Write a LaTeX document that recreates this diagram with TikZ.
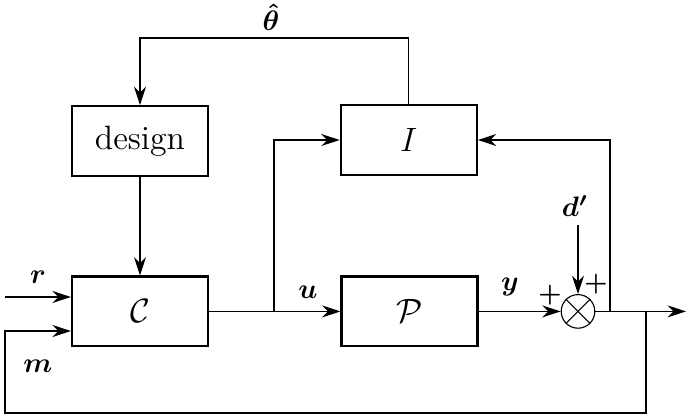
\documentclass[tikz,border=0pt]{standalone}
\usetikzlibrary{arrows.meta, positioning}
\usepackage{amsmath}

\begin{document}
\begin{tikzpicture}[
    x=0.5cm, y=0.5cm,
    blk/.style={draw, thick, minimum width=1.7cm, minimum height=0.87cm,
                font=\large},
    sig/.style={font=\normalsize, inner sep=1pt},
    pls/.style={font=\small, inner sep=1pt},
    junc/.style={draw, circle, minimum size=0.42cm, inner sep=0pt},
    >={Stealth[length=2.3mm, width=1.5mm]}
  ]
  \useasboundingbox (0,0) rectangle (17.2,10.425);

  % Blocks
  \node[blk] (design) at (3.5, 6.9) {design};
  \node[blk] (ident) at (10.22, 6.925) {$I$};
  \node[blk] (ctrl) at (3.5, 2.64) {$\mathcal{C}$};
  \node[blk] (plant) at (10.24, 2.64) {$\mathcal{P}$};
  \node[junc] (sum) at (14.45, 2.64) {};
  \draw (sum.45) -- (sum.225) (sum.135) -- (sum.315);

  % Estimate back to design
  \coordinate (fbl) at (3.5, 9.475);
  \draw[->] (ident.north) |- (fbl) -- (design.north);
  \node[sig] (thlbl) at (6.775, 10.0) {$\boldsymbol{\hat{\theta}}$};
  \draw[->] (design.south) -- (ctrl.north);

  % Inputs r and m
  \coordinate (rin) at (0.125, 3.0);
  \draw[->] (rin) -- (rin -| ctrl.west);
  \node[sig] (rlbl) at (0.95, 3.5) {$\boldsymbol{r}$};

  % u to plant and to I
  \draw[->] (ctrl.east) -- (plant.west);
  \coordinate (ubr) at (6.85, 2.64);
  \draw[->] (ubr) |- (ident.west);
  \node[sig] (ulbl) at (7.7, 3.125) {$\boldsymbol{u}$};

  % y to junction, disturbance d'
  \draw[->] (plant.east) -- (sum.west);
  \node[sig] (ylbl) at (12.75, 3.25) {$\boldsymbol{y}$};
  \node[pls] (pl1) at (13.75, 3.05) {$\boldsymbol{+}$};
  \coordinate (din) at (14.45, 4.8);
  \draw[->] (din) -- (sum.north);
  \node[sig] (dlbl) at (14.375, 5.275) {$\boldsymbol{d'}$};
  \node[pls] (pl2) at (14.9, 3.325) {$\boldsymbol{+}$};

  % Output and feedback paths
  \coordinate (out) at (17.15, 2.64);
  \draw[->] (sum.east) -- (out);
  \coordinate (ibr) at (15.25, 2.64);
  \draw[->] (ibr) |- (ident.east);
  \coordinate (mbr) at (16.15, 2.64);
  \coordinate (mlow) at (0.125, 0.1);
  \coordinate (min) at (0.125, 2.15);
  \draw[->] (mbr) |- (mlow) -- (min) -- (min -| ctrl.west);
  \node[sig] (mlbl) at (0.95, 1.275) {$\boldsymbol{m}$};
\end{tikzpicture}
\end{document}
